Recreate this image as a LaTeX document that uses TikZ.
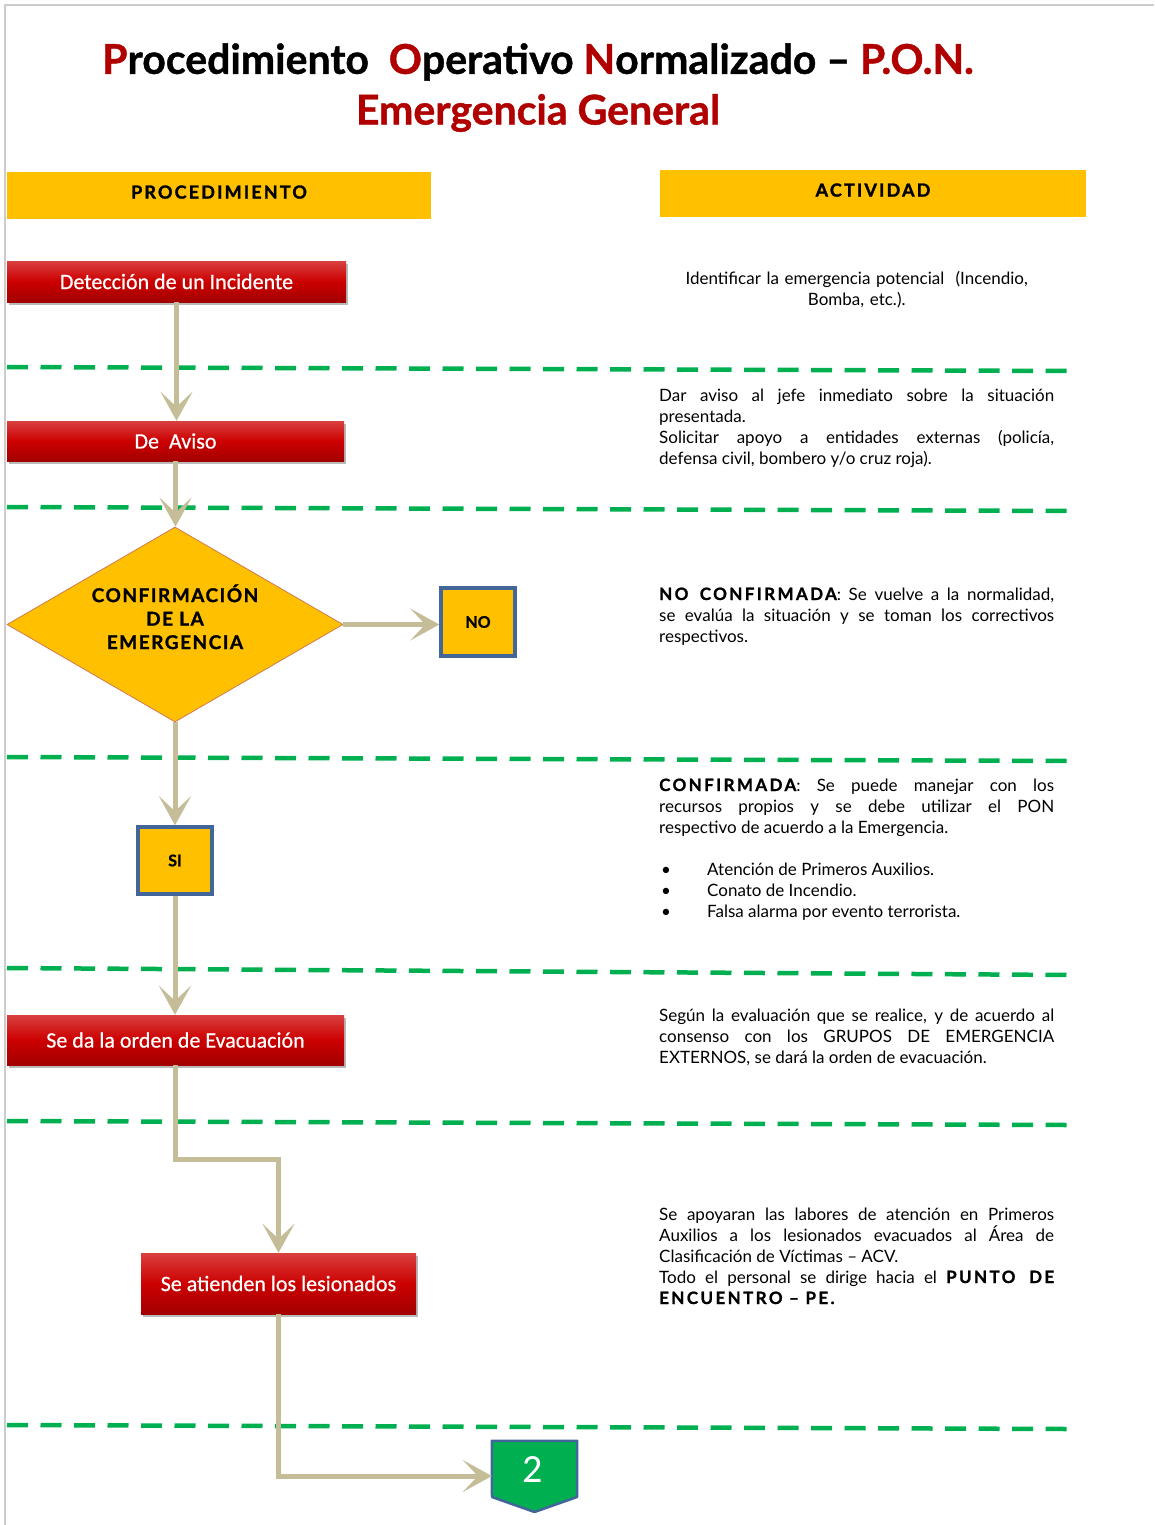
\documentclass[tikz,border=0pt]{standalone}
\usepackage{fontspec}
\setmainfont{Lato}
\newfontfamily\calib{Carlito}
\usetikzlibrary{arrows.meta,shadows,shapes.geometric,calc}
\definecolor{pyellow}{HTML}{FFC000}
\definecolor{pred}{HTML}{CC0000}
\definecolor{tred}{HTML}{B00000}
\definecolor{pgreen}{HTML}{00B050}
\definecolor{pblue}{HTML}{43669A}
\definecolor{ptan}{HTML}{C4BD97}
\definecolor{pedge}{HTML}{D07A50}
\setlength\parindent{0pt}
\newcommand\jl[1]{\makebox[395pt][s]{#1}}
\newcommand\bk[1]{{\bfseries\addfontfeature{LetterSpace=14,FakeBold=1.2}#1}}
\tikzset{
  redbox/.style={top color=pred!75!white, bottom color=pred!80!black, middle color=pred,
    text=white, font=\calib\fontsize{22}{24}\selectfont\addfontfeature{FakeBold=0.6}, inner sep=0,
    drop shadow={shadow xshift=2pt, shadow yshift=-3pt, fill=black!60, opacity=.45}},
  hdr/.style={fill=pyellow, inner sep=0, font=\bfseries\fontsize{18}{20}\selectfont\addfontfeature{LetterSpace=12,FakeBold=1.5}},
  ybox/.style={fill=pyellow, draw=pblue, line width=3.5pt, inner sep=0, font=\bfseries\fontsize{16}{18}\selectfont\addfontfeature{FakeBold=1}},
  arr/.style={draw=ptan, line width=5pt, -{Stealth[length=29pt,width=32pt,inset=15pt]}},
  sep/.style={draw=pgreen, line width=4.5pt, dash pattern=on 21pt off 12.5pt},
  body/.style={inner sep=0, text width=395pt, align=justify, anchor=base west, font=\fontsize{17}{21}\selectfont}
}
\begin{document}
\begin{tikzpicture}[x=1pt,y=-1pt]
\useasboundingbox (0,0) rectangle (1154,1525);
\fill[white] (0,0) rectangle (1154,1525);
\draw[black!20, line width=1.5pt] (1154,5) -- (5,5) -- (5,1525);

% title
\node[font=\bfseries\fontsize{41}{44}\selectfont\addfontfeature{FakeBold=1}] (t1) at (538,62)
  {{\color{tred}P}rocedimiento\ \ {\color{tred}O}perativo {\color{tred}N}ormalizado – {\color{tred}P.O.N.}};
\node[font=\bfseries\fontsize{41}{44}\selectfont\addfontfeature{FakeBold=1}, text=tred] (t2) at (538,113) {Emergencia General};

% headers
\node[hdr, minimum width=424, minimum height=47] (h1) at (219,195.5) {\raisebox{7pt}{PROCEDIMIENTO}};
\node[hdr, minimum width=426, minimum height=47] (h2) at (873,193.5) {\raisebox{7pt}{ACTIVIDAD}};

% separators
\draw[sep] (7,367) -- (1068,371);
\draw[sep] (7,507) -- (1068,511);
\draw[sep] (7,757) -- (1068,761);
\draw[sep] (7,968) -- (1068,975);
\draw[sep] (7,1121) -- (1068,1125);
\draw[sep] (7,1425) -- (1068,1429);

% nodes
\node[redbox, minimum width=339, minimum height=41] (r1) at (176.5,281.5) {Detección de un Incidente};
\node[redbox, minimum width=337, minimum height=40] (r2) at (175.5,441) {De\ \ Aviso};
\node[diamond, aspect=1.72, minimum width=336, minimum height=195, inner sep=0, fill=pyellow, draw=pedge, line width=0.8pt,
  align=center, font=\bfseries\fontsize{19}{23.5}\selectfont\addfontfeature{LetterSpace=8,FakeBold=1.2}] (d) at (175,624.5)
  {CONFIRMACIÓN\\DE LA\\EMERGENCIA\\[-8pt]};
\node[ybox, minimum width=74, minimum height=68] (no) at (478,622) {NO};
\node[ybox, minimum width=74, minimum height=67] (si) at (175,860.5) {SI};
\node[redbox, minimum width=337, minimum height=50] (r3) at (175.5,1040) {Se da la orden de Evacuación};
\node[redbox, minimum width=275, minimum height=61] (r4) at (278.5,1283.5) {Se atienden los lesionados};
\node[minimum width=85, minimum height=70, inner sep=0] (n2) at (534.5,1476) {};
\fill[pgreen, draw=pblue, line width=2.5pt, line join=round] (n2.north west) -- (n2.north east) -- (577,1497) -- (534.5,1512) -- (492,1497) -- cycle;
\node[text=white, font=\calib\fontsize{40}{44}\selectfont] (n2t) at (533,1470) {2};

% connectors
\draw[arr] (r1.south) -- (r1.south |- r2.north);
\draw[arr] (r2.south) -- (r2.south |- d.north);
\draw[arr] (d.east) -- (d.east -| no.west);
\draw[arr] (d.south) -- (si.north);
\draw[arr] (si.south) -- (si.south |- r3.north);
\draw[arr] (r3.south) -- ++(0,94) -| (r4.north);
\draw[arr] (r4.south) |- (n2.west);

% right column
\node[body, align=center] (a1) at (659,284)
  {Identificar la emergencia potencial\ \ (Incendio,\\Bomba, etc.).};
\node[body] (a2) at (659,401)
  {\jl{Dar aviso al jefe inmediato sobre la situación}\\
   presentada.\\
   \jl{Solicitar apoyo a entidades externas (policía,}\\
   defensa civil, bombero y/o cruz roja).};
\node[body] (a3) at (659,600)
  {\jl{\bk{NO CONFIRMADA}: Se vuelve a la normalidad,}\\
   \jl{se evalúa la situación y se toman los correctivos}\\
   respectivos.};
\node[body] (a4) at (659,791)
  {\jl{\bk{CONFIRMADA}: Se puede manejar con los}\\
   \jl{recursos propios y se debe utilizar el PON}\\
   respectivo de acuerdo a la Emergencia.\\[21pt]
   \makebox[48pt][l]{\hspace{2pt}•}Atención de Primeros Auxilios.\\
   \makebox[48pt][l]{\hspace{2pt}•}Conato de Incendio.\\
   \makebox[48pt][l]{\hspace{2pt}•}Falsa alarma por evento terrorista.};
\node[body] (a5) at (659,1021)
  {\jl{Según la evaluación que se realice, y de acuerdo al}\\
   \jl{consenso con los GRUPOS DE EMERGENCIA}\\
   EXTERNOS, se dará la orden de evacuación.};
\node[body] (a6) at (659,1220)
  {\jl{Se apoyaran las labores de atención en Primeros}\\
   \jl{Auxilios a los lesionados evacuados al Área de}\\
   Clasificación de Víctimas – ACV.\\
   \jl{Todo el personal se dirige hacia el \bk{PUNTO DE}}\\
   \bk{ENCUENTRO – PE.}};
\end{tikzpicture}
\end{document}
